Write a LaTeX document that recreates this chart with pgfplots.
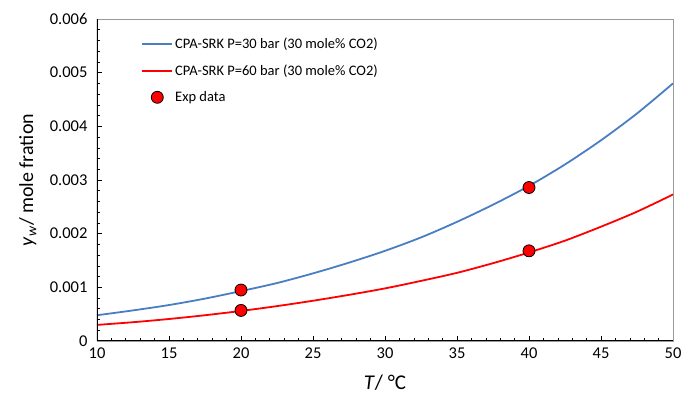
\documentclass[border=0pt]{standalone}
\usepackage{pgfplots}
\pgfplotsset{compat=1.18}
\usepackage{fontspec}
\setmainfont{Carlito}
\usetikzlibrary{calc}
\definecolor{cblue}{RGB}{74,126,194}
\begin{document}
\begin{tikzpicture}
\begin{axis}[
  scale only axis,
  width=576pt, height=322pt,
  xmin=10, xmax=50, ymin=0, ymax=0.006,
  scaled y ticks=false,
  xtick={10,15,...,50},
  xticklabels={10,15,20,25,30,35,40,45,50},
  ytick={0,0.001,0.002,0.003,0.004,0.005,0.006},
  yticklabels={0,0.001,0.002,0.003,0.004,0.005,0.006},
  minor x tick num=4, minor y tick num=4,
  tick pos=left, tick align=inside,
  major tick length=5pt, minor tick length=3pt,
  tick style={black, line width=0.6pt},
  axis line style={gray!80, line width=0.6pt},
  ticklabel style={font=\fontsize{16.5}{18}\selectfont},
  xticklabel style={yshift=-3pt},
  yticklabel style={xshift=-6pt},
  xlabel={\textit{T}/ °C},
  ylabel={\textit{y}\textsubscript{\textit{w}}/ mole fration},
  xlabel style={font=\fontsize{21}{23}\selectfont, at={(axis description cs:0.5,-0.13)}, anchor=center},
  ylabel style={font=\fontsize{20}{22}\selectfont, at={(axis description cs:-0.12,0.5)}, anchor=center},
  legend style={draw=none, fill=none, at={(0.075,0.95)}, anchor=north west,
    font=\fontsize{14.5}{16}\selectfont, row sep=10.5pt, inner sep=1pt},
  legend cell align=left,
  legend image code/.code={\draw[mark repeat=2,mark phase=2,#1] plot coordinates {(0pt,0pt)(15pt,0pt)(30pt,0pt)};},
]
\addplot[cblue, line width=1.8pt, smooth, mark=none] coordinates {
(10,0.00048)(12.5,0.00057)(15,0.00067)(17.5,0.00079)(20,0.00093)(22.5,0.00108)(25,0.00126)(27.5,0.00146)(30,0.00168)(32.5,0.00193)(35,0.00222)(37.5,0.00254)(40,0.00289)(42.5,0.00329)(45,0.00374)(47.5,0.00424)(50,0.00480)};
\addlegendentry{CPA-SRK P=30 bar (30 mole\% CO2)}
\addplot[red, line width=1.8pt, smooth, mark=none] coordinates {
(10,0.00030)(12.5,0.00035)(15,0.00041)(17.5,0.00048)(20,0.00056)(22.5,0.00065)(25,0.00075)(27.5,0.00086)(30,0.00098)(32.5,0.00112)(35,0.00127)(37.5,0.00145)(40,0.00165)(42.5,0.00187)(45,0.00213)(47.5,0.00241)(50,0.00273)};
\addlegendentry{CPA-SRK P=60 bar (30 mole\% CO2)}
\addplot[only marks, mark=*, mark size=6pt, mark options={fill=red, draw=black, line width=0.8pt}] coordinates {
(20,0.00095)(40,0.00286)(20,0.00057)(40,0.00168)};
\addlegendentry{Exp data}
\draw[black, line width=1.2pt] (rel axis cs:0,1) -- (rel axis cs:0,0) -- (rel axis cs:1,0);
\end{axis}
\pgfresetboundingbox
\path[use as bounding box] ($(current axis.south west)+(-97pt,-62pt)$) rectangle ($(current axis.north east)+(12pt,19pt)$);
\end{tikzpicture}
\end{document}
